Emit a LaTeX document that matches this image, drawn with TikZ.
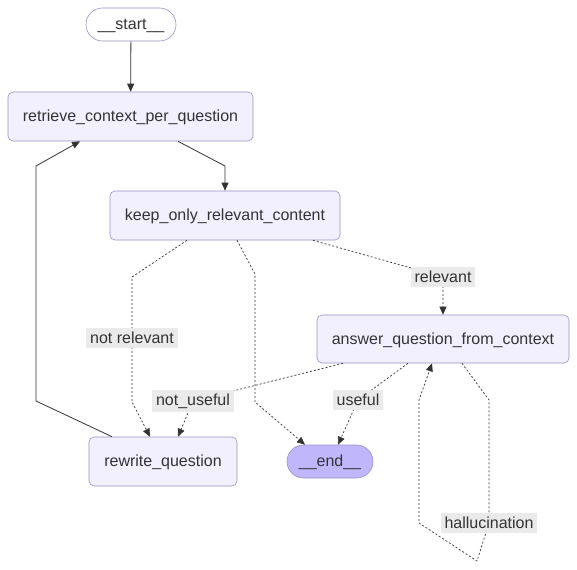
\documentclass[tikz,border=0pt]{standalone}
\usepackage{fontspec}
\setmainfont{Liberation Sans}
\usetikzlibrary{arrows.meta}
\definecolor{nodofill}{HTML}{F2F0FF}
\definecolor{nodobordo}{HTML}{9A8FC4}
\definecolor{finefill}{HTML}{BFB6FC}
\definecolor{linea}{HTML}{333333}
\definecolor{etichetta}{HTML}{EAEAEA}
\begin{document}
\begin{tikzpicture}[x=1pt,y=-1pt,
    font=\fontsize{16}{19}\selectfont, text=linea,
    stato/.style={draw=nodobordo, line width=0.6pt, fill=nodofill, rounded corners=5pt, inner sep=0pt, text height=12pt, text depth=2pt},
    estremo/.style={draw=nodobordo, line width=0.6pt, rounded corners=16.5pt, inner sep=0pt, text height=12pt, text depth=2pt, minimum width=#1, minimum height=33pt},
    freccia/.style={draw=linea, line width=0.8pt, -{Triangle[length=8pt,width=7pt]}},
    punteggiata/.style={freccia, line width=0.7pt, dash pattern=on 2pt off 2pt},
    etic/.style={fill=etichetta, inner sep=4pt, text=linea}]
    \useasboundingbox (0,0) rectangle (577,569);

    % Disegna i nodi
    \node[estremo=90pt, fill=white] (start) at (131,24.5) {\_\_start\_\_};
    \node[stato, minimum width=245pt, minimum height=49pt] (retrieve) at (130.5,116.5) {retrieve\_context\_per\_question};
    \node[stato, minimum width=230pt, minimum height=49pt] (keep) at (225,215.5) {keep\_only\_relevant\_content};
    \node[stato, minimum width=252pt, minimum height=48pt] (answer) at (443,339) {answer\_question\_from\_context};
    \node[stato, minimum width=148pt, minimum height=49pt] (rewrite) at (163,461.5) {rewrite\_question};
    \node[estremo=86pt, fill=finefill] (end) at (330,461.5) {\_\_end\_\_};

    % Disegna archi pieni
    \draw[freccia] (start) -- (retrieve);
    \draw[freccia] ([xshift=47.5pt]retrieve.south) -- (225,166) -- (keep.north);
    \draw[freccia] ([xshift=-51pt]rewrite.north) -- (36,401) -- (36,166) -- ([xshift=-50.5pt]retrieve.south);

    % Disegna archi condizionali
    \draw[punteggiata] ([xshift=88pt]keep.south) -- (443,277) node[etic] {relevant} -- (answer.north);
    \draw[punteggiata] ([xshift=-38pt]keep.south) -- (132,277) -- (132,338) node[etic] {not relevant} -- (132,402) -- ([xshift=-13pt]rewrite.north);
    \draw[punteggiata] ([xshift=12pt]keep.south) -- (255,274) -- (255,402) -- ([xshift=-25pt]end.north);
    \draw[punteggiata] ([xshift=-100pt]answer.south) -- (193,401) node[etic] {not\_useful} -- ([xshift=15pt]rewrite.north);
    \draw[punteggiata] ([xshift=-35pt]answer.south) -- (358,400) node[etic] {useful} -- ([xshift=8pt]end.north);
    \draw[punteggiata] ([xshift=19pt]answer.south) -- (489,400) -- (489,523) node[etic] {hallucination} -- (477,561) -- (419,523) -- (419,400) -- ([xshift=-11pt]answer.south);
\end{tikzpicture}
\end{document}
